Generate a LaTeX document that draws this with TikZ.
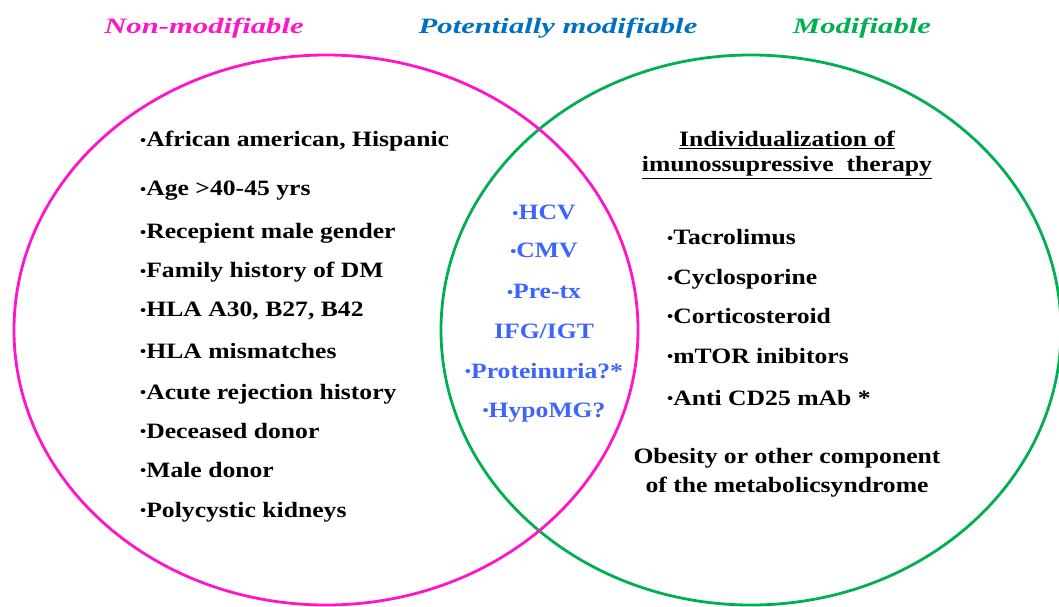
\documentclass[tikz,border=0pt]{standalone}
\usepackage{fontspec}
\newfontfamily\bodyfont{Liberation Serif}[FakeStretch=1.17]
\newfontfamily\titlefont{Liberation Serif}[FakeStretch=1.4]
\definecolor{vmag}{RGB}{255,20,200}
\definecolor{vgreen}{RGB}{0,176,80}
\definecolor{vtblue}{RGB}{0,112,192}
\definecolor{vcblue}{RGB}{60,100,255}
\newcommand{\bul}{{\fontsize{15}{15}\selectfont\raisebox{1.5bp}{•}}}
\begin{document}
\begin{tikzpicture}[x=1bp,y=-1bp,
  ring/.style={line width=2.8bp},
  txt/.style={inner sep=0pt,font=\bodyfont\bfseries\fontsize{22}{26}\selectfont},
  item/.style={txt,anchor=base west},
  ctr/.style={txt,anchor=base,text=vcblue},
  rtc/.style={txt,anchor=base},
  ttl/.style={inner sep=0pt,anchor=base,font=\titlefont\bfseries\itshape\fontsize{22}{26}\selectfont}]
\useasboundingbox (0,0) rectangle (1059,607);
\clip (0,0) rectangle (1059,607);
\fill[white] (0,0) rectangle (1059,607);
% circles
\draw[ring,vgreen] (751,330) ellipse [x radius=310bp, y radius=275bp];
\draw[ring,vmag] (326,330) ellipse [x radius=312bp, y radius=275bp];
% titles
\node[ttl,text=vmag] (t1) at (204,34) {Non-modifiable};
\node[ttl,text=vtblue] (t2) at (558,34) {Potentially modifiable};
\node[ttl,text=vgreen] (t3) at (862,34) {Modifiable};
% left list
\node[item] (l1) at (140,147) {\bul African american, Hispanic};
\node[item] (l2) at (140,196) {\bul Age >40-45 yrs};
\node[item] (l3) at (140,239) {\bul Recepient male gender};
\node[item] (l4) at (140,278) {\bul Family history of DM};
\node[item] (l5) at (140,317) {\bul HLA A30, B27, B42};
\node[item] (l6) at (140,358) {\bul HLA mismatches};
\node[item] (l7) at (140,399) {\bul Acute rejection history};
\node[item] (l8) at (140,438) {\bul Deceased donor};
\node[item] (l9) at (140,477) {\bul Male donor};
\node[item] (l10) at (140,517) {\bul Polycystic kidneys};
% center list
\node[ctr] (c1) at (544,220) {\bul HCV};
\node[ctr] (c2) at (544,258) {\bul CMV};
\node[ctr] (c3) at (544,299) {\bul Pre-tx};
\node[ctr] (c4) at (544,338) {IFG/IGT};
\node[ctr] (c5) at (544,378) {\bul Proteinuria?*};
\node[ctr] (c6) at (544,417) {\bul HypoMG?};
% right
\node[rtc] (r0) at (787,147) {\underline{Individualization of}};
\node[rtc] (r00) at (787,172) {\underline{imunossupressive\ \ therapy}};
\node[item] (r1) at (667,245) {\bul Tacrolimus};
\node[item] (r2) at (667,285) {\bul Cyclosporine};
\node[item] (r3) at (667,323) {\bul Corticosteroid};
\node[item] (r4) at (667,363) {\bul mTOR inibitors};
\node[item] (r5) at (667,405) {\bul Anti CD25 mAb *};
\node[rtc] (r6) at (787,463) {Obesity or other component};
\node[rtc] (r7) at (787,492) {of the metabolicsyndrome};
\end{tikzpicture}
\end{document}
